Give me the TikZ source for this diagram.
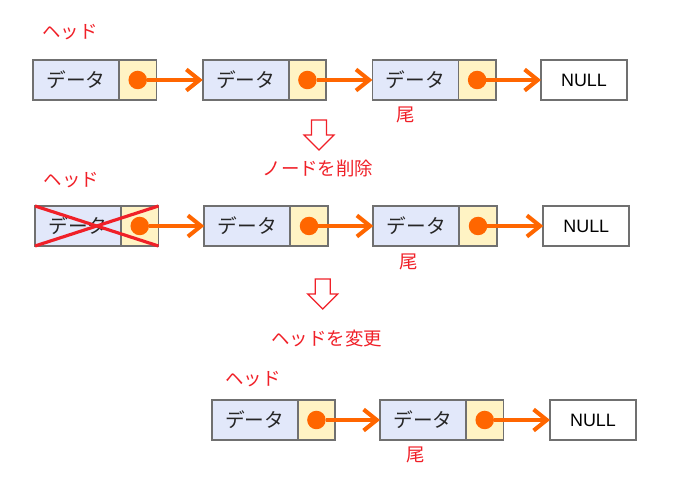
\documentclass[tikz,border=0pt]{standalone}
\usepackage{fontspec}
\setmainfont{Noto Sans CJK JP}
\newfontfamily\latinfont{Liberation Sans}
\usetikzlibrary{arrows.meta,positioning}

\definecolor{datfill}{RGB}{226,232,250}
\definecolor{ptrfill}{RGB}{255,243,196}
\definecolor{cellgray}{RGB}{112,112,112}
\definecolor{orng}{RGB}{255,102,0}
\definecolor{redlbl}{RGB}{240,32,40}

\begin{document}
\begin{tikzpicture}[
  x=0.02cm, y=-0.02cm,
  dat/.style={draw=cellgray, fill=datfill, rectangle, line width=1pt,
    minimum width=1.72cm, minimum height=0.8cm, inner sep=0pt, outer sep=0pt,
    font=\fontsize{11.2}{13}\selectfont, text=black!85},
  ptr/.style={draw=cellgray, fill=ptrfill, rectangle, line width=1pt,
    minimum width=0.75cm, minimum height=0.8cm, inner sep=0pt, outer sep=0pt},
  nul/.style={draw=cellgray, fill=white, rectangle, line width=1pt,
    minimum width=1.72cm, minimum height=0.8cm, inner sep=0pt, outer sep=0pt,
    font=\latinfont\fontsize{10.2}{12}\selectfont},
  dot/.style={circle, fill=orng, minimum size=0.37cm, inner sep=0pt, outer sep=0pt},
  lbl/.style={text=redlbl, font=\fontsize{10.5}{12}\selectfont},
  ar/.style={-{Straight Barb[length=7.5pt,width=12pt]}, draw=orng, line width=2.3pt},
  crs/.style={draw=redlbl, line width=1.8pt},
  blk/.style={draw=redlbl, line width=0.7pt, line join=miter},
]
\useasboundingbox (0,0) rectangle (681,496);

%==== Baris 1: daftar awal ====
\node[lbl] (hd1) at (70,32) {ヘッド};
\node[dat] (a1) at (76,80) {データ};
\node[ptr, right=0pt of a1] (p1) {};
\node[dat] (a2) at (245.7,80) {データ};
\node[ptr, right=0pt of a2] (p2) {};
\node[dat] (a3) at (415.4,80) {データ};
\node[ptr, right=0pt of a3] (p3) {};
\node[nul] (n1) at (584,80) {NULL};
\node[dot] (d1) at (p1.center) {};
\node[dot] (d2) at (p2.center) {};
\node[dot] (d3) at (p3.center) {};
\draw[ar] (d1) -- (a2);
\draw[ar] (d2) -- (a3);
\draw[ar] (d3) -- (n1);
\node[lbl] (tl1) at (406,115) {尾};

%==== Panah: hapus node ====
\coordinate (dn1) at (319,120);
\draw[blk] (dn1) ++(-7.5,0) -- ++(15,0) -- ++(0,15) -- ++(7.5,0)
  -- ++(-15,15) -- ++(-15,-15) -- ++(7.5,0) -- cycle;
\node[lbl] (msg1) at (318,168.5) {ノードを削除};

%==== Baris 2: node kepala dicoret ====
\node[lbl] (hd2) at (71.5,180) {ヘッド};
\node[dat] (b1) at (78,226) {データ};
\node[ptr, right=0pt of b1] (q1) {};
\node[dat] (b2) at (247.3,226) {データ};
\node[ptr, right=0pt of b2] (q2) {};
\node[dat] (b3) at (416.3,226) {データ};
\node[ptr, right=0pt of b3] (q3) {};
\node[nul] (n2) at (586.3,226) {NULL};
\node[dot] (e1) at (q1.center) {};
\node[dot] (e2) at (q2.center) {};
\node[dot] (e3) at (q3.center) {};
\draw[ar] (e1) -- (b2);
\draw[ar] (e2) -- (b3);
\draw[ar] (e3) -- (n2);
\draw[crs] (b1.north west) -- (q1.south east);
\draw[crs] (b1.south west) -- (q1.north east);
\node[lbl] (tl2) at (408.5,261.5) {尾};

%==== Panah: ganti kepala ====
\coordinate (dn2) at (322.7,279);
\draw[blk] (dn2) ++(-7.5,0) -- ++(15,0) -- ++(0,15) -- ++(7.5,0)
  -- ++(-15,15) -- ++(-15,-15) -- ++(7.5,0) -- cycle;
\node[lbl] (msg2) at (326.7,339) {ヘッドを変更};

%==== Baris 3: daftar baru ====
\node[lbl] (hd3) at (253,379) {ヘッド};
\node[dat] (c1) at (254.7,420) {データ};
\node[ptr, right=0pt of c1] (r1) {};
\node[dat] (c2) at (423,420) {データ};
\node[ptr, right=0pt of c2] (r2) {};
\node[nul] (n3) at (593,420) {NULL};
\node[dot] (f1) at (r1.center) {};
\node[dot] (f2) at (r2.center) {};
\draw[ar] (f1) -- (c2);
\draw[ar] (f2) -- (n3);
\node[lbl] (tl3) at (416,455) {尾};

\end{tikzpicture}
\end{document}
